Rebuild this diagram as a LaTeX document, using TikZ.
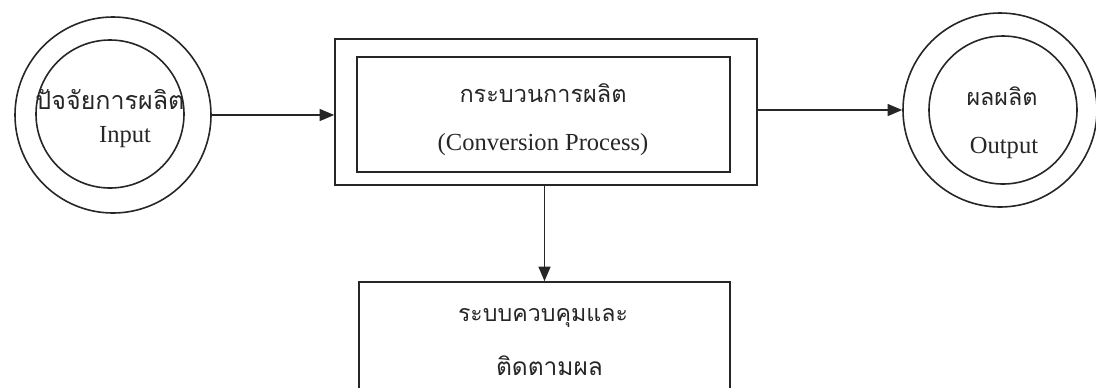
\documentclass[tikz,border=0pt]{standalone}
\usepackage{fontspec}
\setmainfont{Liberation Serif}
\newfontfamily\thai[Script=Thai]{Loma}
\usetikzlibrary{arrows.meta}
\newcommand{\thw}[2]{\resizebox{#1}{!}{\thai #2}}
\begin{document}
\begin{tikzpicture}[x=0.75pt,y=-0.75pt,
  ln/.style={line width=1.2pt,draw=black!85},
  ring/.style={ln,circle,inner sep=0pt},
  boxn/.style={ln,rectangle,inner sep=0pt},
  arr/.style={ln,-{Triangle[length=11pt,width=9pt]}},
  lat/.style={font=\fontsize{18.4}{20}\selectfont,text=black!85,inner sep=0pt},
  th/.style={font=\fontsize{17}{20}\selectfont,text=black!85,inner sep=0pt}]
\path[clip] (0,0) rectangle (1096,387);
% left circles
\node[ring,minimum size=147pt] (lo) at (113,115) {};
\node[ring,minimum size=111pt] (li) at (110,114) {};
\node[th] (lt1) at (110,99) {\thw{111.75pt}{ปัจจัยการผลิต}};
\node[lat] (lt2) at (125,137) {Input};
% process box
\node[boxn,minimum width=316.5pt,minimum height=109.5pt] (po) at (546,112) {};
\node[boxn,minimum width=279.75pt,minimum height=86.25pt] (pi) at (543.5,114.5) {};
\node[th] (pt1) at (543,93) {\thw{125.25pt}{กระบวนการผลิต}};
\node[lat] (pt2) at (543,145) {(Conversion Process)};
% right circles
\node[ring,minimum size=145.5pt] (ro) at (1000,110) {};
\node[ring,minimum size=111pt] (ri) at (1003,110) {};
\node[th] (rt1) at (1002,96) {\thw{53.25pt}{ผลผลิต}};
\node[lat] (rt2) at (1004,148) {Output};
% control box
\node[boxn,minimum width=278.25pt,minimum height=103.5pt] (cb) at (544.5,351) {};
\node[th] (ct1) at (543,318) {\thw{127.5pt}{ระบบควบคุมและ}};
\node[th] (ct2) at (549.5,366) {\thw{80.25pt}{ติดตามผล}};
% connectors
\draw[arr] (lo.east) -- (lo.east -| po.west);
\draw[arr] (po.east |- ro.west) -- (ro.west);
\draw[arr] (cb.north |- po.south) -- (cb.north);
\end{tikzpicture}
\end{document}
